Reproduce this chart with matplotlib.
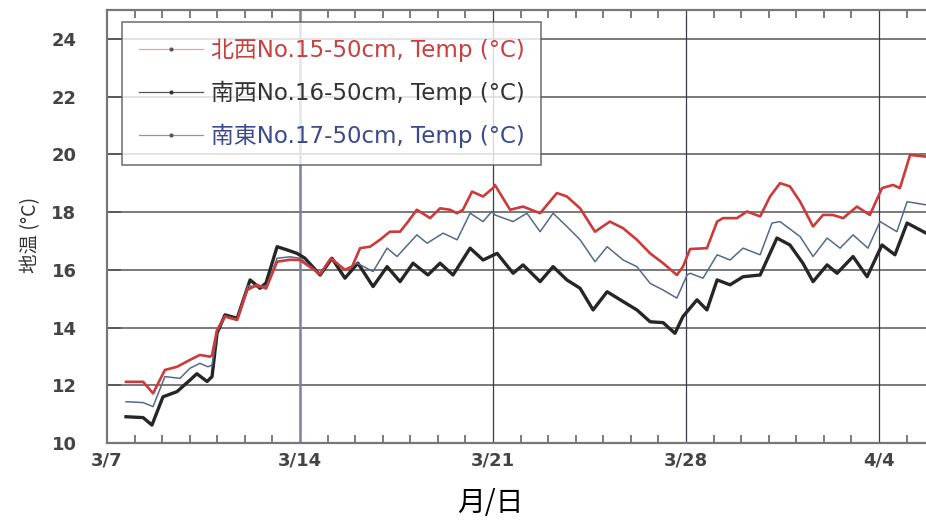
import numpy as np
import matplotlib.pyplot as plt
from matplotlib.lines import Line2D
from matplotlib.ticker import MultipleLocator

plt.rcParams['font.family'] = ['Noto Sans CJK JP', 'DejaVu Sans']

# 日数 (3/7 0:00 起点) と地温 — 図から読み取り
nw_day = [0.69, 1.31, 1.67, 2.10, 2.54, 3.01, 3.37, 3.74, 3.81, 3.99, 4.28, 4.72,
          5.08, 5.44, 5.77, 6.17, 6.64, 7.00, 7.73, 8.12, 8.63, 8.89, 9.18, 9.54,
          9.90, 10.26, 10.63, 10.88, 11.24, 11.72, 12.08, 12.44, 12.70, 12.91, 13.24,
          13.64, 14.00, 14.07, 14.62, 15.09, 15.71, 16.32, 16.68, 17.16, 17.70, 18.24,
          18.72, 19.22, 19.70, 20.17, 20.67, 20.89, 21.15, 21.76, 22.13, 22.34, 22.85,
          23.21, 23.69, 24.05, 24.41, 24.77, 25.14, 25.61, 25.97, 26.33, 26.70, 27.20,
          27.67, 28.11, 28.51, 28.76, 29.13, 29.71]
nw_temp = [12.12, 12.12, 11.72, 12.53, 12.64, 12.88, 13.05, 12.99, 13.05, 13.92, 14.38, 14.26,
           15.30, 15.48, 15.35, 16.28, 16.35, 16.34, 15.85, 16.40, 16.00, 16.11, 16.75, 16.80,
           17.04, 17.32, 17.32, 17.62, 18.08, 17.79, 18.13, 18.08, 17.96, 18.08, 18.71,
           18.54, 18.83, 18.94, 18.08, 18.19, 17.96, 18.66, 18.54, 18.13, 17.32, 17.67,
           17.44, 17.04, 16.57, 16.23, 15.82, 16.11, 16.72, 16.75, 17.67, 17.79, 17.79,
           18.02, 17.85, 18.54, 19.00, 18.89, 18.36, 17.50, 17.90, 17.90, 17.79, 18.19,
           17.90, 18.83, 18.94, 18.83, 19.98, 19.92]

sw_day = [0.69, 1.31, 1.63, 2.03, 2.54, 3.01, 3.26, 3.63, 3.81, 3.99, 4.28, 4.72,
          5.19, 5.55, 5.77, 6.17, 6.53, 6.89, 7.18, 7.73, 8.16, 8.63, 9.10, 9.65,
          10.16, 10.63, 11.10, 11.64, 12.08, 12.55, 13.17, 13.64, 14.15, 14.73, 15.09,
          15.71, 16.18, 16.68, 17.16, 17.63, 18.14, 18.72, 19.22, 19.70, 20.17, 20.60,
          20.89, 21.40, 21.76, 22.13, 22.60, 23.07, 23.69, 24.30, 24.77, 25.24, 25.61,
          26.12, 26.48, 27.06, 27.57, 28.11, 28.58, 29.02, 29.71]
sw_temp = [10.91, 10.88, 10.62, 11.60, 11.78, 12.18, 12.40, 12.13, 12.30, 13.80, 14.44, 14.32,
           15.65, 15.36, 15.55, 16.80, 16.69, 16.57, 16.40, 15.82, 16.40, 15.71, 16.23, 15.42,
           16.11, 15.59, 16.23, 15.82, 16.23, 15.82, 16.75, 16.34, 16.57, 15.88, 16.17,
           15.59, 16.11, 15.65, 15.36, 14.61, 15.24, 14.90, 14.61, 14.20, 14.17, 13.80,
           14.38, 14.96, 14.61, 15.65, 15.48, 15.76, 15.82, 17.10, 16.86, 16.23, 15.59,
           16.17, 15.88, 16.46, 15.76, 16.86, 16.52, 17.62, 17.27]

se_day = [0.69, 1.31, 1.67, 2.10, 2.65, 3.01, 3.37, 3.66, 3.81, 3.99, 4.28, 4.72,
          5.11, 5.48, 5.80, 6.17, 6.64, 7.00, 7.73, 8.12, 8.63, 9.07, 9.65, 10.16,
          10.52, 11.24, 11.61, 12.19, 12.70, 13.17, 13.64, 13.96, 14.07, 14.73, 15.23,
          15.71, 16.18, 16.68, 17.16, 17.70, 18.14, 18.72, 19.22, 19.70, 20.17, 20.67,
          21.04, 21.15, 21.62, 22.13, 22.60, 23.07, 23.69, 24.12, 24.41, 25.14, 25.61,
          26.12, 26.59, 27.06, 27.60, 28.04, 28.65, 29.02, 29.71]
se_temp = [11.43, 11.40, 11.26, 12.30, 12.24, 12.59, 12.76, 12.64, 12.70, 13.85, 14.40, 14.28,
           15.45, 15.40, 15.45, 16.40, 16.45, 16.40, 15.85, 16.40, 16.00, 16.23, 15.94, 16.75,
           16.46, 17.21, 16.92, 17.27, 17.04, 17.96, 17.67, 18.02, 17.90, 17.67, 17.96,
           17.32, 17.96, 17.50, 17.04, 16.28, 16.80, 16.34, 16.11, 15.53, 15.30, 15.02,
           15.82, 15.88, 15.71, 16.52, 16.34, 16.75, 16.52, 17.62, 17.67, 17.15, 16.46,
           17.10, 16.75, 17.21, 16.75, 17.67, 17.32, 18.36, 18.25]

week_ticks = [0, 7, 14, 21, 28]
week_labels = ['3/7', '3/14', '3/21', '3/28', '4/4']
labels = ['北西No.15-50cm, Temp (°C)', '南西No.16-50cm, Temp (°C)', '南東No.17-50cm, Temp (°C)']

W, H = 926, 524
fig = plt.figure(figsize=(W / 100, H / 100), dpi=100)
ax = fig.add_axes([107 / W, 81 / H, 830 / W, 433 / H])

px_per_day = 27.57
ax.set_xlim(0, 830 / px_per_day)
ax.set_ylim(10, 25)

# グリッド
for y in range(12, 25, 2):
    ax.axhline(y, color='#555555', lw=1.1, zorder=1)
ax.axvline(7, color='#7a80a0', lw=1.8, zorder=1)
for d in [14, 21, 28]:
    ax.axvline(d, color='#3a3a4a', lw=0.9, zorder=1)

ax.plot(se_day, se_temp, color='#56698c', lw=1.1, zorder=3)
ax.plot(nw_day, nw_temp, color='#cc3a3a', lw=1.9, zorder=4)
ax.plot(sw_day, sw_temp, color='#262626', lw=2.4, zorder=2)

ax.set_xticks(week_ticks)
ax.set_xticklabels(week_labels)
ax.xaxis.set_minor_locator(MultipleLocator(1))
ax.set_yticks(range(10, 25, 2))
ax.tick_params(axis='x', which='major', length=0, pad=6, labelsize=13, labelcolor='#444444')
ax.tick_params(axis='x', which='minor', direction='in', length=6, width=1.2,
               color='#666666', top=True)
ax.tick_params(axis='y', which='major', direction='in', length=10, width=1.2,
               color='#555555', pad=22, labelsize=13, labelcolor='#444444')
for t in ax.get_xticklabels() + ax.get_yticklabels():
    t.set_fontweight('bold')
    t.set_family('DejaVu Sans')

for s in ['left', 'bottom', 'top']:
    ax.spines[s].set_color('#777777')
    ax.spines[s].set_linewidth(1.6)
ax.spines['right'].set_visible(False)

handles = [
    Line2D([], [], color='#e8a0a0', lw=0.9, marker='.', ms=4, mfc='#555555', mec='#555555'),
    Line2D([], [], color='#555555', lw=0.9, marker='.', ms=4, mfc='#333333', mec='#333333'),
    Line2D([], [], color='#8c96aa', lw=0.9, marker='.', ms=4, mfc='#555555', mec='#555555'),
]
leg = ax.legend(handles, labels, loc='upper left', bbox_to_anchor=(15 / 830, 1 - 12 / 433),
                borderaxespad=0, frameon=True, fancybox=False,
                prop={'family': ['DejaVu Sans', 'Noto Sans CJK JP'], 'size': 16.5},
                handlelength=2.8, handletextpad=0.35, labelspacing=0.82,
                borderpad=0.72, numpoints=1)
leg.get_frame().set_edgecolor('#555555')
leg.get_frame().set_linewidth(1.2)
leg.set_zorder(5)
for txt, c in zip(leg.get_texts(), ['#c84040', '#333333', '#3c4a8c']):
    txt.set_color(c)

fig.text(31 / W, 1 - 235 / H, '地温 (°C)', rotation=90, ha='center', va='center',
         fontsize=14, color='#333333')
fig.text(490 / W, 1 - 503 / H, '月/日', ha='center', va='center', fontsize=20, color='#000000')

fig.savefig('out.png', dpi=100)
